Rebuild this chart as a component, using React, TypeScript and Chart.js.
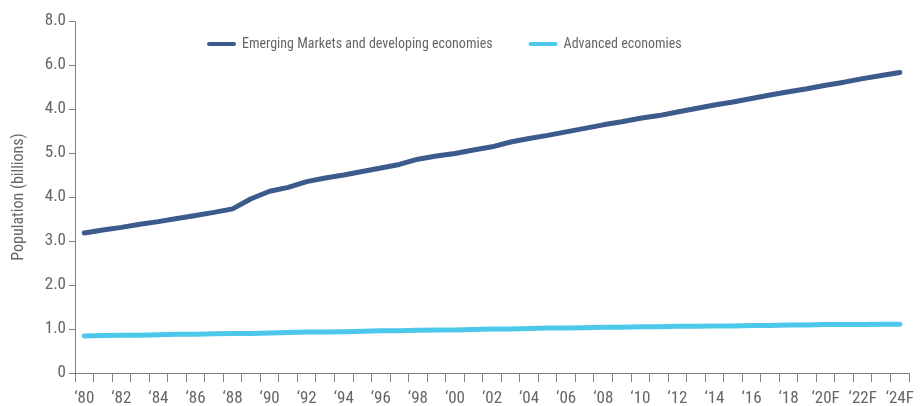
import { useEffect, useRef } from "react";
import { Chart, registerables } from "chart.js";

Chart.register(...registerables);

const categories = [
  "‘80", "‘81", "‘82", "‘83", "‘84", "‘85", "‘86", "‘87", "‘88", "‘89",
  "‘90", "‘91", "‘92", "‘93", "‘94", "‘95", "‘96", "‘97", "‘98", "‘99",
  "‘00", "‘01", "‘02", "‘03", "‘04", "‘05", "‘06", "‘07", "‘08", "‘09",
  "‘10", "‘11", "‘12", "‘13", "‘14", "‘15", "‘16", "‘17", "‘18", "‘19",
  "‘20F", "‘21F", "‘22F", "‘23F", "‘24F",
];

const emerging = [
  3.18, 3.25, 3.31, 3.38, 3.44, 3.51, 3.58, 3.65, 3.73, 3.96,
  4.13, 4.22, 4.35, 4.43, 4.5, 4.58, 4.66, 4.74, 4.86, 4.93,
  4.99, 5.07, 5.14, 5.25, 5.33, 5.4, 5.48, 5.56, 5.64, 5.71,
  5.79, 5.85, 5.93, 6.01, 6.09, 6.16, 6.24, 6.32, 6.39, 6.46,
  6.54, 6.61, 6.69, 6.76, 6.83,
];

const advanced = [
  0.84, 0.85, 0.86, 0.86, 0.87, 0.88, 0.88, 0.89, 0.9, 0.9,
  0.91, 0.92, 0.93, 0.93, 0.94, 0.95, 0.96, 0.96, 0.97, 0.98,
  0.98, 0.99, 1.0, 1.0, 1.01, 1.02, 1.02, 1.03, 1.04, 1.04,
  1.05, 1.05, 1.06, 1.06, 1.07, 1.07, 1.08, 1.08, 1.09, 1.09,
  1.1, 1.1, 1.1, 1.11, 1.11,
];

// Tick labels exactly as printed on the original axis (values 0..8)
const yTickLabels = ["0", "1.0", "2.0", "3.0", "4.0", "5.0", "4.0", "6.0", "8.0"];

const seriesNames = ["Emerging Markets and developing economies", "Advanced economies"];
const seriesColors = ["#3d5a8c", "#4cc8eb"];
const yTitle = "Population (billions)";

const FONT = '"Roboto Condensed", Roboto, sans-serif';
const TEXT = "#666666";
const AXIS = "#808080";

const insideLegend = {
  id: "insideLegend",
  afterDraw(chart: any) {
    const ctx = chart.ctx as CanvasRenderingContext2D;
    const area = chart.chartArea;
    ctx.save();
    ctx.font = `14px ${FONT}`;
    ctx.textBaseline = "middle";
    ctx.textAlign = "left";
    let x = area.left + 132;
    const y = area.top + 23;
    chart.data.datasets.forEach((ds: any) => {
      ctx.strokeStyle = ds.borderColor;
      ctx.lineWidth = 4;
      ctx.lineCap = "round";
      ctx.beginPath();
      ctx.moveTo(x + 2, y);
      ctx.lineTo(x + 27, y);
      ctx.stroke();
      ctx.fillStyle = TEXT;
      ctx.fillText(ds.label, x + 35, y);
      x += 35 + ctx.measureText(ds.label).width + 36;
    });
    ctx.restore();
  },
};

export default function App() {
  const canvasRef = useRef<HTMLCanvasElement | null>(null);

  useEffect(() => {
    if (!canvasRef.current) return;
    const chart = new Chart(canvasRef.current, {
      type: "line",
      data: {
        labels: categories,
        datasets: [
          {
            label: seriesNames[0],
            data: emerging,
            borderColor: seriesColors[0],
            backgroundColor: seriesColors[0],
            borderWidth: 5,
            pointRadius: 0,
            tension: 0,
            borderCapStyle: "round",
            borderJoinStyle: "round",
          },
          {
            label: seriesNames[1],
            data: advanced,
            borderColor: seriesColors[1],
            backgroundColor: seriesColors[1],
            borderWidth: 5,
            pointRadius: 0,
            tension: 0,
            borderCapStyle: "round",
            borderJoinStyle: "round",
          },
        ],
      },
      options: {
        animation: false,
        responsive: true,
        maintainAspectRatio: false,
        layout: { padding: { top: 21, right: 7, left: 0, bottom: 0 } },
        plugins: {
          legend: { display: false },
          tooltip: { enabled: false },
        },
        scales: {
          x: {
            type: "category",
            offset: true,
            grid: {
              display: true,
              offset: true,
              drawOnChartArea: false,
              drawTicks: true,
              tickLength: 9,
              color: AXIS,
              tickColor: AXIS,
            },
            border: { display: true, color: AXIS, width: 1 },
            ticks: {
              autoSkip: false,
              maxRotation: 0,
              minRotation: 0,
              padding: 7,
              color: TEXT,
              font: { family: FONT, size: 17 },
              callback: (_v: any, i: number) => (i % 2 === 0 ? categories[i] : ""),
            },
            afterFit: (s: any) => {
              s.height = 33;
            },
          },
          y: {
            min: 0,
            max: 8,
            grid: {
              display: true,
              drawOnChartArea: false,
              drawTicks: true,
              tickLength: 6,
              color: AXIS,
              tickColor: AXIS,
            },
            border: { display: true, color: AXIS, width: 1 },
            ticks: {
              stepSize: 1,
              padding: 3,
              color: TEXT,
              font: { family: FONT, size: 17 },
              callback: (v: any) => yTickLabels[Math.round(Number(v))],
            },
            title: {
              display: true,
              text: yTitle,
              color: TEXT,
              font: { family: FONT, size: 16 },
              padding: { top: 9, bottom: 0 },
            },
            afterFit: (s: any) => {
              s.width = 75;
            },
          },
        },
      },
      plugins: [insideLegend],
    });
    return () => chart.destroy();
  }, []);

  return (
    <div style={{ position: "fixed", left: 0, top: 0, width: 921, height: 406, background: "#fff" }}>
      <canvas ref={canvasRef} />
    </div>
  );
}
